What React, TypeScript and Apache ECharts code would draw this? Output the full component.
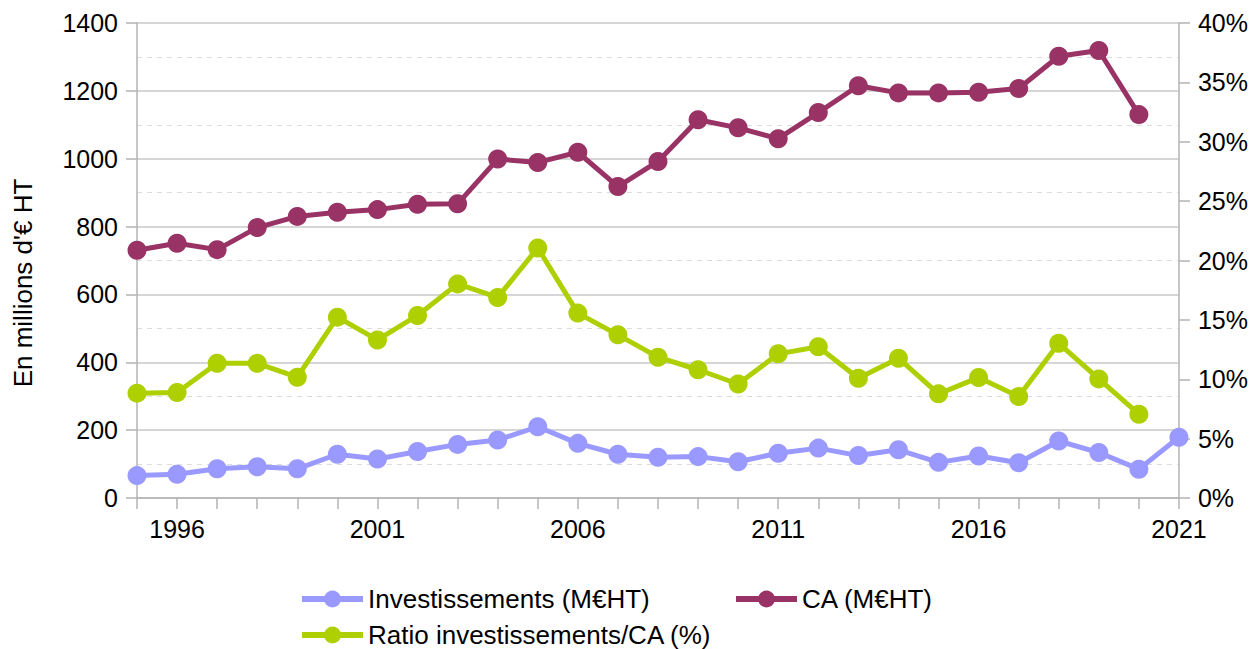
import React, { useEffect, useRef } from "react";
import * as echarts from "echarts";

const years = [1995, 1996, 1997, 1998, 1999, 2000, 2001, 2002, 2003, 2004, 2005, 2006, 2007, 2008, 2009, 2010, 2011, 2012, 2013, 2014, 2015, 2016, 2017, 2018, 2019, 2020, 2021];
const investissements = [66, 70, 86, 92, 86, 129, 115, 137, 158, 171, 210, 161, 129, 120, 122, 107, 132, 147, 125, 142, 105, 124, 104, 168, 134, 85, 179];
const chiffreAffaires = [730, 751, 732, 797, 830, 842, 850, 866, 867, 999, 989, 1019, 918, 992, 1115, 1091, 1059, 1136, 1215, 1194, 1194, 1196, 1207, 1302, 1319, 1130];
const ratio = [8.83, 8.89, 11.34, 11.34, 10.17, 15.23, 13.31, 15.37, 18.03, 16.89, 21.06, 15.57, 13.74, 11.86, 10.8, 9.6, 12.14, 12.74, 10.09, 11.77, 8.77, 10.14, 8.54, 13.03, 10.03, 7.06];

const seriesNames = ["Investissements (M€HT)", "CA (M€HT)", "Ratio investissements/CA (%)"];
const colors = ["#9999ff", "#993366", "#aecf00"];
const yTitle = "En millions d'€ HT";

const FONT = "'Liberation Sans', Arial, sans-serif";
const FS = 25;
const FS_LEGEND = 26;

function pairs(vals: number[]) {
  return vals.map((v, i) => [years[i], v]);
}

export default function App() {
  const ref = useRef<HTMLDivElement>(null);
  useEffect(() => {
    if (!ref.current) return;
    const chart = echarts.init(ref.current, undefined, { renderer: "svg" });
    const axisLineStyle = { color: "#b3b3b3", width: 1.5 };
    const legendBase = {
      orient: "horizontal" as const,
      padding: 0,
      itemWidth: 61,
      itemHeight: 21,
      textStyle: { fontSize: FS_LEGEND, fontFamily: FONT, color: "#000" },
      lineStyle: { width: 6 },
      selectedMode: false,
    };
    chart.setOption({
      animation: false,
      backgroundColor: "#ffffff",
      grid: { left: 137, right: 72, top: 23, bottom: 151, containLabel: false },
      legend: [
        { ...legendBase, data: [seriesNames[0]], left: 299, top: 586 },
        { ...legendBase, data: [seriesNames[1]], left: 733, top: 586 },
        { ...legendBase, data: [seriesNames[2]], left: 299, top: 622 },
      ],
      graphic: [
        {
          type: "text",
          x: 23,
          y: 283,
          rotation: Math.PI / 2,
          style: {
            text: yTitle,
            fill: "#000",
            font: `${FS_LEGEND}px ${FONT}`,
            textAlign: "center",
            textVerticalAlign: "middle",
          },
        },
      ],
      xAxis: {
        type: "value",
        min: 1995,
        max: 2021,
        interval: 1,
        axisLine: { show: true, lineStyle: axisLineStyle },
        axisTick: { show: true, inside: false, length: 11, lineStyle: axisLineStyle },
        splitLine: { show: false },
        axisLabel: {
          margin: 18,
          fontSize: FS,
          fontFamily: FONT,
          color: "#000",
          formatter: (v: number) => ((v - 1996) % 5 === 0 ? String(v) : ""),
        },
      },
      yAxis: [
        {
          type: "value",
          min: 0,
          max: 1400,
          interval: 200,
          position: "left",
          axisLine: { show: true, lineStyle: axisLineStyle },
          axisTick: { show: true, inside: false, length: 11, lineStyle: axisLineStyle },
          axisLabel: {
            margin: 19,
            fontSize: FS,
            fontFamily: FONT,
            color: "#000",
            formatter: (v: number) => String(v),
          },
          splitLine: { show: true, lineStyle: { color: "#c8c8c8", width: 1.5 } },
          minorTick: { show: false, splitNumber: 2 },
          minorSplitLine: { show: true, lineStyle: { color: "#dddddd", type: [5, 5], width: 1 } },
        },
        {
          type: "value",
          min: 0,
          max: 40,
          interval: 5,
          position: "right",
          axisLine: { show: true, lineStyle: axisLineStyle },
          axisTick: { show: true, inside: false, length: 11, lineStyle: axisLineStyle },
          axisLabel: { margin: 19, fontSize: FS, fontFamily: FONT, color: "#000", formatter: "{value}%" },
          splitLine: { show: false },
        },
      ],
      series: [
        {
          name: seriesNames[0],
          type: "line",
          yAxisIndex: 0,
          data: pairs(investissements),
          symbol: "circle",
          symbolSize: 19,
          lineStyle: { width: 5, color: colors[0] },
          itemStyle: { color: colors[0] },
        },
        {
          name: seriesNames[1],
          type: "line",
          yAxisIndex: 0,
          data: pairs(chiffreAffaires),
          symbol: "circle",
          symbolSize: 19,
          lineStyle: { width: 5, color: colors[1] },
          itemStyle: { color: colors[1] },
        },
        {
          name: seriesNames[2],
          type: "line",
          yAxisIndex: 1,
          data: pairs(ratio),
          symbol: "circle",
          symbolSize: 19,
          lineStyle: { width: 5, color: colors[2] },
          itemStyle: { color: colors[2] },
        },
      ],
    });
    return () => chart.dispose();
  }, []);
  return <div ref={ref} style={{ width: 1251, height: 649, position: "absolute", left: 0, top: 0 }} />;
}
